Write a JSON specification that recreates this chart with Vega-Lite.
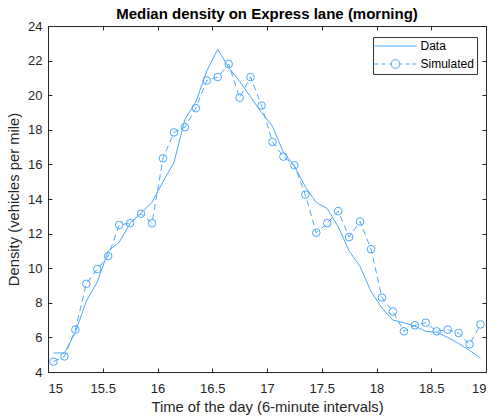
{
  "$schema": "https://vega.github.io/schema/vega-lite/v6.json",
  "width": 438,
  "height": 346,
  "autosize": {"type": "none"},
  "padding": {"left": 48, "top": 26, "right": 11, "bottom": 47},
  "background": "white",
  "title": {
    "text": "Median density on Express lane (morning)",
    "font": "Liberation Sans",
    "fontSize": 15,
    "fontWeight": "bold",
    "color": "#000000",
    "anchor": "middle",
    "offset": -2
  },
  "config": {
    "view": {"stroke": null},
    "axis": {
      "grid": false,
      "domainColor": "#262626",
      "tickColor": "#262626",
      "labelColor": "#262626",
      "titleColor": "#262626",
      "labelFont": "Liberation Sans",
      "labelFontSize": 13,
      "titleFont": "Liberation Sans",
      "titleFontSize": 14.8,
      "titleFontWeight": "normal",
      "tickSize": -4,
      "domainWidth": 1,
      "tickWidth": 1,
      "format": "~g"
    }
  },
  "data": {
    "values": [
      {"t": 15.05, "v": 5.1, "series": "Data"},
      {"t": 15.15, "v": 5.1, "series": "Data"},
      {"t": 15.25, "v": 6.3, "series": "Data"},
      {"t": 15.35, "v": 8.1, "series": "Data"},
      {"t": 15.45, "v": 9.2, "series": "Data"},
      {"t": 15.55, "v": 11.0, "series": "Data"},
      {"t": 15.65, "v": 11.5, "series": "Data"},
      {"t": 15.75, "v": 12.6, "series": "Data"},
      {"t": 15.85, "v": 13.2, "series": "Data"},
      {"t": 15.95, "v": 13.8, "series": "Data"},
      {"t": 16.05, "v": 15.0, "series": "Data"},
      {"t": 16.15, "v": 16.1, "series": "Data"},
      {"t": 16.25, "v": 18.6, "series": "Data"},
      {"t": 16.35, "v": 19.6, "series": "Data"},
      {"t": 16.45, "v": 21.4, "series": "Data"},
      {"t": 16.55, "v": 22.65, "series": "Data"},
      {"t": 16.65, "v": 21.6, "series": "Data"},
      {"t": 16.75, "v": 20.8, "series": "Data"},
      {"t": 16.85, "v": 19.9, "series": "Data"},
      {"t": 16.95, "v": 19.0, "series": "Data"},
      {"t": 17.05, "v": 18.2, "series": "Data"},
      {"t": 17.15, "v": 16.7, "series": "Data"},
      {"t": 17.25, "v": 15.9, "series": "Data"},
      {"t": 17.35, "v": 14.7, "series": "Data"},
      {"t": 17.45, "v": 13.8, "series": "Data"},
      {"t": 17.55, "v": 13.45, "series": "Data"},
      {"t": 17.65, "v": 12.4, "series": "Data"},
      {"t": 17.75, "v": 11.0, "series": "Data"},
      {"t": 17.85, "v": 10.1, "series": "Data"},
      {"t": 17.95, "v": 8.65, "series": "Data"},
      {"t": 18.05, "v": 7.7, "series": "Data"},
      {"t": 18.15, "v": 7.0, "series": "Data"},
      {"t": 18.25, "v": 6.85, "series": "Data"},
      {"t": 18.35, "v": 6.65, "series": "Data"},
      {"t": 18.45, "v": 6.35, "series": "Data"},
      {"t": 18.55, "v": 6.3, "series": "Data"},
      {"t": 18.65, "v": 6.0, "series": "Data"},
      {"t": 18.75, "v": 5.65, "series": "Data"},
      {"t": 18.85, "v": 5.25, "series": "Data"},
      {"t": 18.95, "v": 4.8, "series": "Data"},
      {"t": 15.05, "v": 4.6, "series": "Simulated"},
      {"t": 15.15, "v": 4.9, "series": "Simulated"},
      {"t": 15.25, "v": 6.45, "series": "Simulated"},
      {"t": 15.35, "v": 9.1, "series": "Simulated"},
      {"t": 15.45, "v": 9.95, "series": "Simulated"},
      {"t": 15.55, "v": 10.7, "series": "Simulated"},
      {"t": 15.65, "v": 12.5, "series": "Simulated"},
      {"t": 15.75, "v": 12.6, "series": "Simulated"},
      {"t": 15.85, "v": 13.15, "series": "Simulated"},
      {"t": 15.95, "v": 12.6, "series": "Simulated"},
      {"t": 16.05, "v": 16.35, "series": "Simulated"},
      {"t": 16.15, "v": 17.85, "series": "Simulated"},
      {"t": 16.25, "v": 18.15, "series": "Simulated"},
      {"t": 16.35, "v": 19.25, "series": "Simulated"},
      {"t": 16.45, "v": 20.85, "series": "Simulated"},
      {"t": 16.55, "v": 21.05, "series": "Simulated"},
      {"t": 16.65, "v": 21.8, "series": "Simulated"},
      {"t": 16.75, "v": 19.85, "series": "Simulated"},
      {"t": 16.85, "v": 21.05, "series": "Simulated"},
      {"t": 16.95, "v": 19.4, "series": "Simulated"},
      {"t": 17.05, "v": 17.3, "series": "Simulated"},
      {"t": 17.15, "v": 16.45, "series": "Simulated"},
      {"t": 17.25, "v": 15.95, "series": "Simulated"},
      {"t": 17.35, "v": 14.25, "series": "Simulated"},
      {"t": 17.45, "v": 12.05, "series": "Simulated"},
      {"t": 17.55, "v": 12.6, "series": "Simulated"},
      {"t": 17.65, "v": 13.3, "series": "Simulated"},
      {"t": 17.75, "v": 11.8, "series": "Simulated"},
      {"t": 17.85, "v": 12.7, "series": "Simulated"},
      {"t": 17.95, "v": 11.1, "series": "Simulated"},
      {"t": 18.05, "v": 8.3, "series": "Simulated"},
      {"t": 18.15, "v": 7.5, "series": "Simulated"},
      {"t": 18.25, "v": 6.35, "series": "Simulated"},
      {"t": 18.35, "v": 6.7, "series": "Simulated"},
      {"t": 18.45, "v": 6.85, "series": "Simulated"},
      {"t": 18.55, "v": 6.35, "series": "Simulated"},
      {"t": 18.65, "v": 6.45, "series": "Simulated"},
      {"t": 18.75, "v": 6.25, "series": "Simulated"},
      {"t": 18.85, "v": 5.6, "series": "Simulated"},
      {"t": 18.95, "v": 6.75, "series": "Simulated"}
    ]
  },
  "resolve": {"axis": {"x": "independent", "y": "independent"}},
  "layer": [
    {
      "transform": [{"filter": "datum.series === 'Data'"}],
      "mark": {"type": "line", "strokeWidth": 1},
      "encoding": {
        "x": {
          "field": "t", "type": "quantitative",
          "scale": {"domain": [15, 19], "nice": false, "zero": false},
          "axis": {
            "orient": "bottom",
            "title": "Time of the day (6-minute intervals)",
            "values": [15, 15.5, 16, 16.5, 17, 17.5, 18, 18.5, 19],
            "labelPadding": 14,
            "titlePadding": 4
          }
        },
        "y": {
          "field": "v", "type": "quantitative",
          "scale": {"domain": [4, 24], "nice": false, "zero": false},
          "axis": {
            "orient": "left",
            "title": "Density (vehicles per mile)",
            "values": [4, 6, 8, 10, 12, 14, 16, 18, 20, 22, 24],
            "labelPadding": 10,
            "titlePadding": 6
          }
        },
        "color": {
          "field": "series", "type": "nominal",
          "scale": {"domain": ["Data", "Simulated"], "range": ["#4DA6FF", "#4DA6FF"]},
          "legend": {
            "title": null,
            "orient": "none",
            "legendX": 325,
            "legendY": 11,
            "padding": 3,
            "fillColor": "white",
            "strokeColor": "#333333",
            "labelFont": "Liberation Sans",
            "labelFontSize": 12,
            "labelColor": "#000000",
            "symbolSize": 100,
            "symbolOffset": 13.5,
            "labelOffset": 19,
            "rowPadding": 5,
            "encode": {
              "symbols": {
                "update": {
                  "shape": {"signal": "datum.value === 'Data' ? 'M-4.2,0H4.2' : 'M-4.2,0H-3.4M-2.8,0H-2M-1.3,0H-0.86M0.86,0H1.3M2,0H2.8M3.4,0H4.2M0.86,0A0.86,0.86,0,1,1,-0.86,0A0.86,0.86,0,1,1,0.86,0Z'"},
                  "stroke": {"value": "#4DA6FF"},
                  "fill": {"value": "transparent"},
                  "strokeWidth": {"value": 1},
                  "strokeDash": {"value": []},
                  "opacity": {"value": 1}
                }
              }
            }
          }
        }
      }
    },
    {
      "transform": [{"filter": "datum.series === 'Simulated'"}],
      "mark": {"type": "line", "strokeWidth": 1, "strokeDash": [6, 4]},
      "encoding": {
        "x": {
          "field": "t", "type": "quantitative",
          "axis": {
            "orient": "top",
            "title": null,
            "labels": false,
            "values": [15, 15.5, 16, 16.5, 17, 17.5, 18, 18.5, 19]
          }
        },
        "y": {
          "field": "v", "type": "quantitative",
          "axis": {
            "orient": "right",
            "title": null,
            "labels": false,
            "values": [4, 6, 8, 10, 12, 14, 16, 18, 20, 22, 24]
          }
        },
        "color": {"field": "series", "type": "nominal"}
      }
    },
    {
      "transform": [{"filter": "datum.series === 'Simulated'"}],
      "mark": {"type": "point", "shape": "circle", "filled": false, "size": 58, "strokeWidth": 1, "opacity": 1},
      "encoding": {
        "x": {"field": "t", "type": "quantitative", "axis": null},
        "y": {"field": "v", "type": "quantitative", "axis": null},
        "color": {"field": "series", "type": "nominal"}
      }
    }
  ]
}
